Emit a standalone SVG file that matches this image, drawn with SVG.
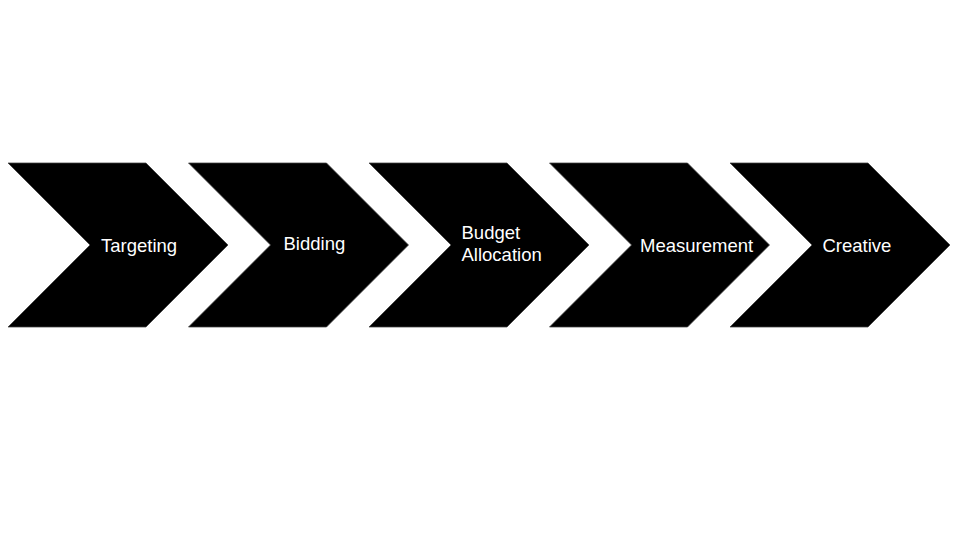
<svg xmlns="http://www.w3.org/2000/svg" width="960" height="540" viewBox="0 0 960 540">
<style>
.chev{fill:#000;stroke:#404040;stroke-width:0.75}
.lbl{fill:#fff;font-family:"Liberation Sans",Arial,sans-serif;font-size:18.5px}
</style>
<defs>
<polygon id="chevron" points="0,0 138,0 220,82 138,164 0,164 82,82"/>
</defs>
<rect width="960" height="540" fill="#fff"/>
<g id="connectors"></g>
<g id="targeting">
<use href="#chevron" class="chev" x="8" y="163"/>
<text class="lbl" x="101" y="252">Targeting</text>
</g>
<g id="bidding">
<use href="#chevron" class="chev" x="188.5" y="163"/>
<text class="lbl" x="283.5" y="249.5">Bidding</text>
</g>
<g id="budget-allocation">
<use href="#chevron" class="chev" x="369" y="163"/>
<text class="lbl" x="461.5" y="238.5">Budget</text>
<text class="lbl" x="461.5" y="260.5">Allocation</text>
</g>
<g id="measurement">
<use href="#chevron" class="chev" x="549.5" y="163"/>
<text class="lbl" x="640" y="252.3">Measurement</text>
</g>
<g id="creative">
<use href="#chevron" class="chev" x="730" y="163"/>
<text class="lbl" x="822.5" y="252">Creative</text>
</g>
</svg>
